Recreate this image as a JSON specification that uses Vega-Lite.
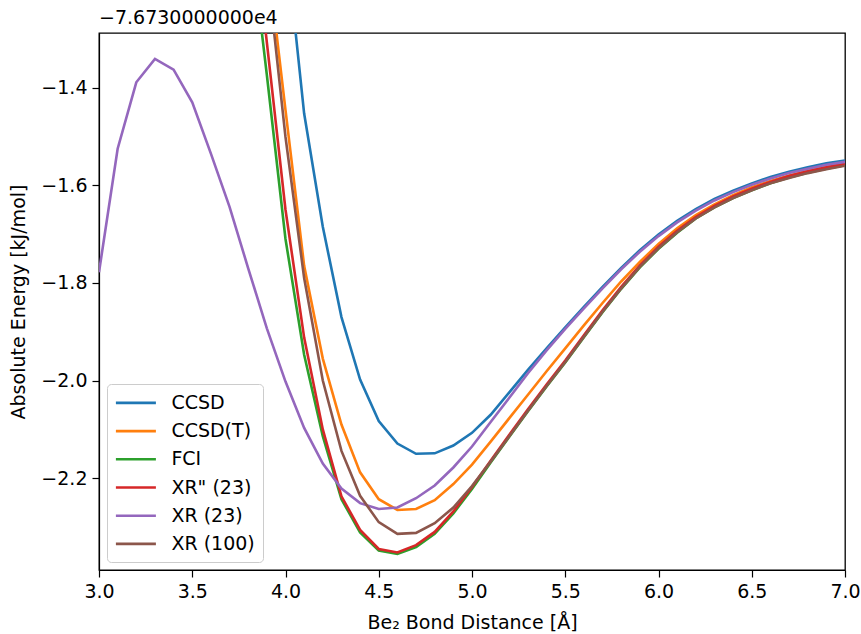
{
"$schema": "https://vega.github.io/schema/vega-lite/v6.json",
"width": 746, "height": 537,
"autosize": {"type": "none"},
"padding": {"left": 99, "top": 33, "right": 16, "bottom": 64},
"background": "white",
"title": {"text": "−7.6730000000e4", "anchor": "start", "frame": "group", "font": "DejaVu Sans", "fontSize": 19, "fontWeight": "normal", "offset": 5, "color": "black"},
"config": {
  "view": {"stroke": "black", "strokeWidth": 1.3},
  "font": "DejaVu Sans",
  "axis": {"labelFont": "DejaVu Sans", "labelFontSize": 19, "labelColor": "black", "tickColor": "black", "tickSize": 7, "tickWidth": 1.2, "domainColor": "black", "domainWidth": 1.2, "titleFont": "DejaVu Sans", "titleFontSize": 19, "titleFontWeight": "normal", "titleColor": "black", "labelPadding": 5, "grid": false, "labelFlush": false}
},
"datasets": {"pes": [
{"m":"CCSD","r":3.9,"E":-0.75},{"m":"CCSD","r":4.0,"E":-1.09},{"m":"CCSD","r":4.1,"E":-1.453},{"m":"CCSD","r":4.2,"E":-1.685},{"m":"CCSD","r":4.3,"E":-1.870},{"m":"CCSD","r":4.4,"E":-1.998},{"m":"CCSD","r":4.5,"E":-2.083},{"m":"CCSD","r":4.6,"E":-2.129},{"m":"CCSD","r":4.7,"E":-2.150},{"m":"CCSD","r":4.8,"E":-2.149},{"m":"CCSD","r":4.9,"E":-2.133},{"m":"CCSD","r":5.0,"E":-2.107},{"m":"CCSD","r":5.1,"E":-2.070},{"m":"CCSD","r":5.2,"E":-2.024},{"m":"CCSD","r":5.3,"E":-1.978},{"m":"CCSD","r":5.4,"E":-1.934},{"m":"CCSD","r":5.5,"E":-1.891},{"m":"CCSD","r":5.6,"E":-1.849},{"m":"CCSD","r":5.7,"E":-1.808},{"m":"CCSD","r":5.8,"E":-1.769},{"m":"CCSD","r":5.9,"E":-1.733},{"m":"CCSD","r":6.0,"E":-1.701},{"m":"CCSD","r":6.1,"E":-1.673},{"m":"CCSD","r":6.2,"E":-1.649},{"m":"CCSD","r":6.3,"E":-1.628},{"m":"CCSD","r":6.4,"E":-1.611},{"m":"CCSD","r":6.5,"E":-1.596},{"m":"CCSD","r":6.6,"E":-1.583},{"m":"CCSD","r":6.7,"E":-1.572},{"m":"CCSD","r":6.8,"E":-1.563},{"m":"CCSD","r":6.9,"E":-1.555},{"m":"CCSD","r":7.0,"E":-1.549},
{"m":"CCSD(T)","r":3.8,"E":-0.79},{"m":"CCSD(T)","r":3.9,"E":-1.12},{"m":"CCSD(T)","r":4.0,"E":-1.446},{"m":"CCSD(T)","r":4.1,"E":-1.765},{"m":"CCSD(T)","r":4.2,"E":-1.955},{"m":"CCSD(T)","r":4.3,"E":-2.090},{"m":"CCSD(T)","r":4.4,"E":-2.188},{"m":"CCSD(T)","r":4.5,"E":-2.243},{"m":"CCSD(T)","r":4.6,"E":-2.265},{"m":"CCSD(T)","r":4.7,"E":-2.263},{"m":"CCSD(T)","r":4.8,"E":-2.245},{"m":"CCSD(T)","r":4.9,"E":-2.212},{"m":"CCSD(T)","r":5.0,"E":-2.172},{"m":"CCSD(T)","r":5.1,"E":-2.125},{"m":"CCSD(T)","r":5.2,"E":-2.077},{"m":"CCSD(T)","r":5.3,"E":-2.029},{"m":"CCSD(T)","r":5.4,"E":-1.981},{"m":"CCSD(T)","r":5.5,"E":-1.934},{"m":"CCSD(T)","r":5.6,"E":-1.887},{"m":"CCSD(T)","r":5.7,"E":-1.841},{"m":"CCSD(T)","r":5.8,"E":-1.797},{"m":"CCSD(T)","r":5.9,"E":-1.757},{"m":"CCSD(T)","r":6.0,"E":-1.720},{"m":"CCSD(T)","r":6.1,"E":-1.688},{"m":"CCSD(T)","r":6.2,"E":-1.661},{"m":"CCSD(T)","r":6.3,"E":-1.639},{"m":"CCSD(T)","r":6.4,"E":-1.620},{"m":"CCSD(T)","r":6.5,"E":-1.604},{"m":"CCSD(T)","r":6.6,"E":-1.591},{"m":"CCSD(T)","r":6.7,"E":-1.580},{"m":"CCSD(T)","r":6.8,"E":-1.570},{"m":"CCSD(T)","r":6.9,"E":-1.562},{"m":"CCSD(T)","r":7.0,"E":-1.555},
{"m":"FCI","r":3.8,"E":-1.05},{"m":"FCI","r":3.9,"E":-1.374},{"m":"FCI","r":4.0,"E":-1.710},{"m":"FCI","r":4.1,"E":-1.947},{"m":"FCI","r":4.2,"E":-2.114},{"m":"FCI","r":4.3,"E":-2.243},{"m":"FCI","r":4.4,"E":-2.311},{"m":"FCI","r":4.5,"E":-2.348},{"m":"FCI","r":4.6,"E":-2.355},{"m":"FCI","r":4.7,"E":-2.341},{"m":"FCI","r":4.8,"E":-2.314},{"m":"FCI","r":4.9,"E":-2.272},{"m":"FCI","r":5.0,"E":-2.222},{"m":"FCI","r":5.1,"E":-2.168},{"m":"FCI","r":5.2,"E":-2.115},{"m":"FCI","r":5.3,"E":-2.063},{"m":"FCI","r":5.4,"E":-2.012},{"m":"FCI","r":5.5,"E":-1.963},{"m":"FCI","r":5.6,"E":-1.911},{"m":"FCI","r":5.7,"E":-1.860},{"m":"FCI","r":5.8,"E":-1.812},{"m":"FCI","r":5.9,"E":-1.768},{"m":"FCI","r":6.0,"E":-1.730},{"m":"FCI","r":6.1,"E":-1.697},{"m":"FCI","r":6.2,"E":-1.668},{"m":"FCI","r":6.3,"E":-1.645},{"m":"FCI","r":6.4,"E":-1.626},{"m":"FCI","r":6.5,"E":-1.610},{"m":"FCI","r":6.6,"E":-1.596},{"m":"FCI","r":6.7,"E":-1.584},{"m":"FCI","r":6.8,"E":-1.574},{"m":"FCI","r":6.9,"E":-1.566},{"m":"FCI","r":7.0,"E":-1.559},
{"m":"XR\" (23)","r":3.8,"E":-0.97},{"m":"XR\" (23)","r":3.9,"E":-1.307},{"m":"XR\" (23)","r":4.0,"E":-1.650},{"m":"XR\" (23)","r":4.1,"E":-1.912},{"m":"XR\" (23)","r":4.2,"E":-2.100},{"m":"XR\" (23)","r":4.3,"E":-2.237},{"m":"XR\" (23)","r":4.4,"E":-2.306},{"m":"XR\" (23)","r":4.5,"E":-2.345},{"m":"XR\" (23)","r":4.6,"E":-2.352},{"m":"XR\" (23)","r":4.7,"E":-2.337},{"m":"XR\" (23)","r":4.8,"E":-2.310},{"m":"XR\" (23)","r":4.9,"E":-2.268},{"m":"XR\" (23)","r":5.0,"E":-2.218},{"m":"XR\" (23)","r":5.1,"E":-2.164},{"m":"XR\" (23)","r":5.2,"E":-2.111},{"m":"XR\" (23)","r":5.3,"E":-2.059},{"m":"XR\" (23)","r":5.4,"E":-2.008},{"m":"XR\" (23)","r":5.5,"E":-1.959},{"m":"XR\" (23)","r":5.6,"E":-1.907},{"m":"XR\" (23)","r":5.7,"E":-1.856},{"m":"XR\" (23)","r":5.8,"E":-1.808},{"m":"XR\" (23)","r":5.9,"E":-1.764},{"m":"XR\" (23)","r":6.0,"E":-1.726},{"m":"XR\" (23)","r":6.1,"E":-1.693},{"m":"XR\" (23)","r":6.2,"E":-1.665},{"m":"XR\" (23)","r":6.3,"E":-1.642},{"m":"XR\" (23)","r":6.4,"E":-1.623},{"m":"XR\" (23)","r":6.5,"E":-1.607},{"m":"XR\" (23)","r":6.6,"E":-1.593},{"m":"XR\" (23)","r":6.7,"E":-1.581},{"m":"XR\" (23)","r":6.8,"E":-1.571},{"m":"XR\" (23)","r":6.9,"E":-1.563},{"m":"XR\" (23)","r":7.0,"E":-1.556},
{"m":"XR (23)","r":3.0,"E":-1.778},{"m":"XR (23)","r":3.1,"E":-1.525},{"m":"XR (23)","r":3.2,"E":-1.389},{"m":"XR (23)","r":3.3,"E":-1.341},{"m":"XR (23)","r":3.4,"E":-1.363},{"m":"XR (23)","r":3.5,"E":-1.430},{"m":"XR (23)","r":3.6,"E":-1.535},{"m":"XR (23)","r":3.7,"E":-1.644},{"m":"XR (23)","r":3.8,"E":-1.770},{"m":"XR (23)","r":3.9,"E":-1.893},{"m":"XR (23)","r":4.0,"E":-2.002},{"m":"XR (23)","r":4.1,"E":-2.097},{"m":"XR (23)","r":4.2,"E":-2.170},{"m":"XR (23)","r":4.3,"E":-2.221},{"m":"XR (23)","r":4.4,"E":-2.251},{"m":"XR (23)","r":4.5,"E":-2.263},{"m":"XR (23)","r":4.6,"E":-2.260},{"m":"XR (23)","r":4.7,"E":-2.241},{"m":"XR (23)","r":4.8,"E":-2.215},{"m":"XR (23)","r":4.9,"E":-2.178},{"m":"XR (23)","r":5.0,"E":-2.135},{"m":"XR (23)","r":5.1,"E":-2.085},{"m":"XR (23)","r":5.2,"E":-2.035},{"m":"XR (23)","r":5.3,"E":-1.985},{"m":"XR (23)","r":5.4,"E":-1.938},{"m":"XR (23)","r":5.5,"E":-1.894},{"m":"XR (23)","r":5.6,"E":-1.852},{"m":"XR (23)","r":5.7,"E":-1.811},{"m":"XR (23)","r":5.8,"E":-1.772},{"m":"XR (23)","r":5.9,"E":-1.736},{"m":"XR (23)","r":6.0,"E":-1.704},{"m":"XR (23)","r":6.1,"E":-1.676},{"m":"XR (23)","r":6.2,"E":-1.652},{"m":"XR (23)","r":6.3,"E":-1.631},{"m":"XR (23)","r":6.4,"E":-1.614},{"m":"XR (23)","r":6.5,"E":-1.599},{"m":"XR (23)","r":6.6,"E":-1.586},{"m":"XR (23)","r":6.7,"E":-1.575},{"m":"XR (23)","r":6.8,"E":-1.566},{"m":"XR (23)","r":6.9,"E":-1.558},{"m":"XR (23)","r":7.0,"E":-1.552},
{"m":"XR (100)","r":3.8,"E":-0.80},{"m":"XR (100)","r":3.9,"E":-1.15},{"m":"XR (100)","r":4.0,"E":-1.501},{"m":"XR (100)","r":4.1,"E":-1.790},{"m":"XR (100)","r":4.2,"E":-2.000},{"m":"XR (100)","r":4.3,"E":-2.144},{"m":"XR (100)","r":4.4,"E":-2.236},{"m":"XR (100)","r":4.5,"E":-2.290},{"m":"XR (100)","r":4.6,"E":-2.314},{"m":"XR (100)","r":4.7,"E":-2.312},{"m":"XR (100)","r":4.8,"E":-2.292},{"m":"XR (100)","r":4.9,"E":-2.260},{"m":"XR (100)","r":5.0,"E":-2.216},{"m":"XR (100)","r":5.1,"E":-2.166},{"m":"XR (100)","r":5.2,"E":-2.114},{"m":"XR (100)","r":5.3,"E":-2.062},{"m":"XR (100)","r":5.4,"E":-2.011},{"m":"XR (100)","r":5.5,"E":-1.962},{"m":"XR (100)","r":5.6,"E":-1.910},{"m":"XR (100)","r":5.7,"E":-1.859},{"m":"XR (100)","r":5.8,"E":-1.811},{"m":"XR (100)","r":5.9,"E":-1.767},{"m":"XR (100)","r":6.0,"E":-1.729},{"m":"XR (100)","r":6.1,"E":-1.696},{"m":"XR (100)","r":6.2,"E":-1.668},{"m":"XR (100)","r":6.3,"E":-1.645},{"m":"XR (100)","r":6.4,"E":-1.626},{"m":"XR (100)","r":6.5,"E":-1.610},{"m":"XR (100)","r":6.6,"E":-1.596},{"m":"XR (100)","r":6.7,"E":-1.585},{"m":"XR (100)","r":6.8,"E":-1.575},{"m":"XR (100)","r":6.9,"E":-1.567},{"m":"XR (100)","r":7.0,"E":-1.560}
]},
"data": {"name": "pes"},
"mark": {"type": "line", "strokeWidth": 2.6, "clip": true},
"encoding": {
  "x": {"field": "r", "type": "quantitative", "scale": {"domain": [3, 7], "nice": false, "zero": false}, "axis": {"values": [3, 3.5, 4, 4.5, 5, 5.5, 6, 6.5, 7], "format": ".1f", "title": "Be₂ Bond Distance [Å]", "titlePadding": 12}},
  "y": {"field": "E", "type": "quantitative", "scale": {"domain": [-2.388, -1.288], "nice": false, "zero": false}, "axis": {"values": [-1.4, -1.6, -1.8, -2.0, -2.2], "format": ".1f", "title": "Absolute Energy [kJ/mol]", "titlePadding": 12}},
  "color": {"field": "m", "type": "nominal",
    "scale": {"domain": ["CCSD", "CCSD(T)", "FCI", "XR\" (23)", "XR (23)", "XR (100)"], "range": ["#1f77b4", "#ff7f0e", "#2ca02c", "#d62728", "#9467bd", "#8c564b"]},
    "legend": {"orient": "bottom-left", "offset": 8, "title": null, "symbolType": "M-1,0H3", "symbolSize": 400, "symbolStrokeWidth": 2.6, "labelFontSize": 19, "labelFont": "DejaVu Sans", "labelColor": "black", "labelOffset": 34, "rowPadding": 6.2, "padding": 7.4, "strokeColor": "#cccccc", "fillColor": "white", "cornerRadius": 4, "labelLimit": 300}}
}
}
